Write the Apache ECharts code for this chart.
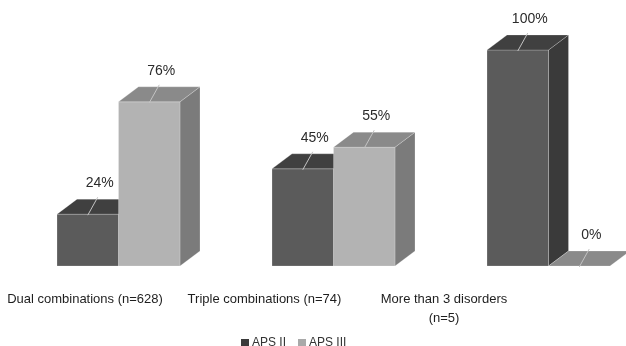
<!DOCTYPE html>
<html>
<head>
<meta charset="utf-8">
<script src="https://cdn.jsdelivr.net/npm/echarts@6/dist/echarts.min.js"></script>
<style>
  html, body { margin: 0; padding: 0; background: #fff; }
  #chart { width: 626px; height: 346px; }
</style>
</head>
<body>
<div id="chart"></div>
<script>
// Share of APS type per combination group (%)
const categories = ['Dual combinations (n=628)', 'Triple combinations (n=74)', 'More than 3 disorders\n(n=5)'];
const apsII = [24, 45, 100];
const apsIII = [76, 55, 0];
const seriesNames = ['APS II', 'APS III'];

// face colours for the pseudo-3D boxes: [front, top, side]
const faceColors = [
  ['#5b5b5b', '#404040', '#3a3a3a'],
  ['#b3b3b3', '#8a8a8a', '#7b7b7b']
];
const legendColors = ['#3a3a3a', '#a9a9a9'];

const DEPTH_X = 20, DEPTH_Y = 15;
const FONT = '"Liberation Sans", Arial, sans-serif';

function makeRender(seriesIndex) {
  return function (params, api) {
    const cat = api.value(0);
    const val = api.value(1);
    const base = api.coord([cat, 0]);
    const top = api.coord([cat, val]);
    const step = api.coord([1, 0])[0] - api.coord([0, 0])[0];
    const w = step * 0.286;
    const x0 = seriesIndex === 0 ? base[0] - w : base[0];
    const x1 = x0 + w;
    const yb = base[1];
    const yt = top[1];
    const c = faceColors[seriesIndex];
    const edge = { stroke: 'rgba(255,255,255,0.35)', lineWidth: 0.6 };
    const children = [];
    if (yb - yt > 0.5) {
      children.push({
        type: 'polygon',
        shape: { points: [[x1, yb], [x1 + DEPTH_X, yb - DEPTH_Y], [x1 + DEPTH_X, yt - DEPTH_Y], [x1, yt]] },
        style: Object.assign({ fill: c[2] }, edge)
      });
      children.push({
        type: 'rect',
        shape: { x: x0, y: yt, width: w, height: yb - yt },
        style: Object.assign({ fill: c[0] }, edge)
      });
    }
    children.push({
      type: 'polygon',
      shape: { points: [[x0, yt], [x1, yt], [x1 + DEPTH_X, yt - DEPTH_Y], [x0 + DEPTH_X, yt - DEPTH_Y]] },
      style: Object.assign({ fill: c[1] }, edge)
    });
    const fc = x0 + w / 2;
    // leader line from the top face up to the value label
    children.push({
      type: 'line',
      shape: { x1: fc, y1: yt + 1, x2: fc + 10, y2: yt - 17 },
      style: { stroke: '#c4c4c4', lineWidth: 1 }
    });
    children.push({
      type: 'text',
      style: {
        x: fc + 12, y: yt - 31,
        text: val + '%',
        fill: '#2b2b2b', font: '14px ' + FONT,
        align: 'center', verticalAlign: 'middle'
      }
    });
    return { type: 'group', children: children };
  };
}

const chart = echarts.init(document.getElementById('chart'), null, { renderer: 'canvas' });

chart.setOption({
  animation: false,
  backgroundColor: '#fff',
  grid: [
    { left: 118.5, right: 77.5, top: 50, bottom: 80 },
    { left: 85, right: 182, top: 50, bottom: 61 }
  ],
  xAxis: [
    { type: 'category', gridIndex: 0, data: categories, boundaryGap: false, show: false },
    {
      type: 'category', gridIndex: 1, data: categories, boundaryGap: false,
      axisLine: { show: false }, axisTick: { show: false },
      axisLabel: { interval: 0, color: '#1e1e1e', fontSize: 13, fontFamily: FONT, margin: 5, lineHeight: 19, align: 'center' }
    }
  ],
  yAxis: [
    { type: 'value', gridIndex: 0, min: 0, max: 100, show: false },
    { type: 'value', gridIndex: 1, min: 0, max: 100, show: false }
  ],
  legend: {
    data: seriesNames,
    left: 236, top: 332,
    icon: 'rect', itemWidth: 8, itemHeight: 8, itemGap: 12,
    textStyle: { color: '#333', fontSize: 12, fontFamily: FONT, padding: [0, 0, 0, -2] }
  },
  series: [
    {
      name: seriesNames[0], type: 'custom', xAxisIndex: 0, yAxisIndex: 0,
      itemStyle: { color: legendColors[0] },
      renderItem: makeRender(0),
      data: apsII.map((v, i) => [i, v])
    },
    {
      name: seriesNames[1], type: 'custom', xAxisIndex: 0, yAxisIndex: 0,
      itemStyle: { color: legendColors[1] },
      renderItem: makeRender(1),
      data: apsIII.map((v, i) => [i, v])
    }
  ]
});
</script>
</body>
</html>
